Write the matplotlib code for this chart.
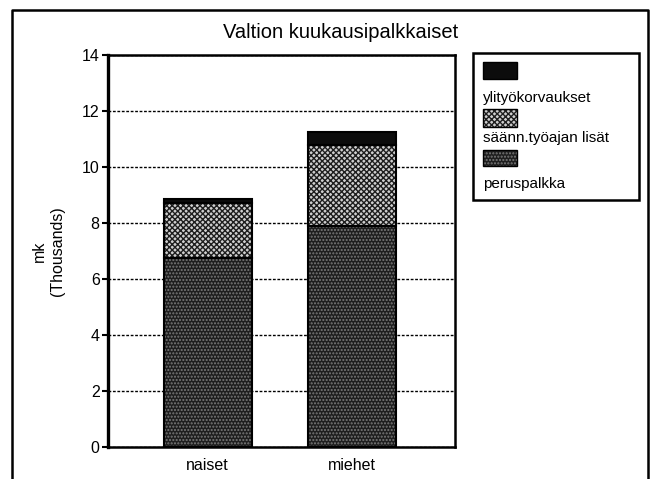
import matplotlib
matplotlib.use("Agg")
import matplotlib.pyplot as plt
from matplotlib.patches import Rectangle
from matplotlib.lines import Line2D

categories = ["naiset", "miehet"]
peruspalkka = [6.75, 7.9]
saann_lisat = [1.97, 2.9]
ylityo = [0.13, 0.45]
yticks = [0, 2, 4, 6, 8, 10, 12, 14]
legend_labels = ["ylityökorvaukset", "säänn.työajan lisät", "peruspalkka"]

plt.rcParams['font.family'] = ['Liberation Sans', 'DejaVu Sans']

W, H = 654, 479
fig = plt.figure(figsize=(W/100, H/100), dpi=100)

def fx(px): return px / W
def fy(py): return 1 - py / H

# outer frame
fig.add_artist(Line2D([fx(12), fx(12), fx(648), fx(648)], [0, fy(10), fy(10), 0],
                      color='black', lw=1.8, transform=fig.transFigure))

ax = fig.add_axes([fx(108), fy(447), fx(455) - fx(108), fy(55) - fy(447)])
x = list(range(len(categories)))
width = 0.61

styles = [
    dict(face='#1e1e1e', hatch_col='#7a7a7a', hatch='.....'),   # peruspalkka
    dict(face='#cfcfcf', hatch_col='#1e1e1e', hatch='xxxxxx'),  # lisät
    dict(face='#0c0c0c', hatch_col='#0c0c0c', hatch=None),      # ylityö
]
series = [peruspalkka, saann_lisat, ylityo]
bottom = [0.0] * len(categories)
for vals, st in zip(series, styles):
    ax.bar(x, vals, width, bottom=bottom, color=st['face'], edgecolor=st['hatch_col'],
           hatch=st['hatch'], linewidth=0, zorder=3)
    ax.bar(x, vals, width, bottom=bottom, fill=False, edgecolor='black', linewidth=1.5, zorder=4)
    bottom = [b + v for b, v in zip(bottom, vals)]

ax.set_xlim(-0.69, 1.71)
ax.set_ylim(0, 14)
ax.set_yticks(yticks)
ax.set_yticklabels([str(t) for t in yticks], fontsize=11.5)
ax.set_xticks(x)
ax.set_xticklabels(categories, fontsize=11.5)
ax.tick_params(axis='x', length=0, pad=8)
ax.tick_params(axis='y', length=4, width=1.5, direction='out', pad=2)
ax.yaxis.grid(True, linestyle=(0, (2.0, 1.2)), color='black', linewidth=1.0, zorder=1)
ax.set_axisbelow(True)
for s in ax.spines.values():
    s.set_linewidth(1.8)
ax.spines['left'].set_linewidth(2.4)
ax.set_ylabel("mk\n(Thousands)", fontsize=11.5, labelpad=12, linespacing=1.3)

fig.text(fx(341), fy(33), "Valtion kuukausipalkkaiset", ha='center', va='center', fontsize=14.5)

# legend
fig.add_artist(Rectangle((fx(473), fy(200)), fx(639) - fx(473), fy(53) - fy(200),
                         fill=False, edgecolor='black', linewidth=1.8, transform=fig.transFigure))
patch_y = [(62, 79), (109, 127), (150, 166)]
text_y = [98, 138, 184]
leg_styles = [styles[2], styles[1], styles[0]]
for (y0, y1), ty, lab, st in zip(patch_y, text_y, legend_labels, leg_styles):
    fig.add_artist(Rectangle((fx(483), fy(y1)), fx(517) - fx(483), fy(y0) - fy(y1),
                             facecolor=st['face'], edgecolor=st['hatch_col'], hatch=st['hatch'],
                             linewidth=0, transform=fig.transFigure))
    fig.add_artist(Rectangle((fx(483), fy(y1)), fx(517) - fx(483), fy(y0) - fy(y1),
                             fill=False, edgecolor='black', linewidth=1.0, transform=fig.transFigure))
    fig.text(fx(483), fy(ty), lab, ha='left', va='center', fontsize=11)

fig.savefig("out.png", dpi=100)
